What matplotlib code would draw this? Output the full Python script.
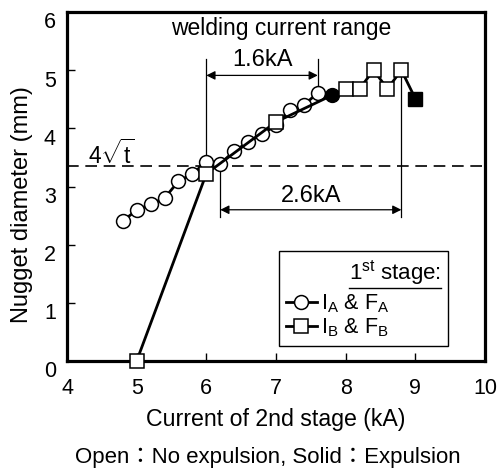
import matplotlib
matplotlib.use("Agg")
import matplotlib.pyplot as plt
from matplotlib.lines import Line2D
import matplotlib.transforms as mtransforms

plt.rcParams['font.family'] = ['Liberation Sans', 'Noto Sans CJK JP', 'DejaVu Sans']
plt.rcParams['mathtext.fontset'] = 'custom'
plt.rcParams['mathtext.rm'] = 'Liberation Sans'
plt.rcParams['mathtext.it'] = 'Liberation Sans'
plt.rcParams['mathtext.default'] = 'regular'

# Series A (I_A & F_A): open = no expulsion, solid = expulsion
a_x_open = [4.8, 5.0, 5.2, 5.4, 5.6, 5.8, 6.0, 6.2, 6.4, 6.6, 6.8, 7.0, 7.2, 7.4, 7.6]
a_y_open = [2.41, 2.59, 2.70, 2.80, 3.09, 3.22, 3.42, 3.39, 3.61, 3.76, 3.90, 4.05, 4.31, 4.40, 4.61]
a_x_solid = [7.8]
a_y_solid = [4.57]

# Series B (I_B & F_B)
b_x_open = [5.0, 6.0, 7.0, 8.0, 8.2, 8.4, 8.6, 8.8]
b_y_open = [0.0, 3.22, 4.11, 4.68, 4.68, 5.0, 4.68, 5.0]
b_x_solid = [9.0]
b_y_solid = [4.51]

limit_y = 3.35  # 4*sqrt(t)
range_a = (6.0, 7.6)
range_b = (6.2, 8.8)

x_ticks = [4, 5, 6, 7, 8, 9, 10]
y_ticks = [0, 1, 2, 3, 4, 5, 6]

fig = plt.figure(figsize=(5.01, 4.71), dpi=100)
ax = fig.add_axes([67/501, 1-361/471, 418/501, 349/471])
ax.set_xlim(4, 10)
ax.set_ylim(0, 6)
ax.set_xticks(x_ticks)
ax.set_yticks(y_ticks)
ax.tick_params(direction='in', length=5.5, width=1, labelsize=15.5)
ax.tick_params(axis='x', pad=12)
ax.tick_params(axis='y', pad=8)
for s in ax.spines.values():
    s.set_linewidth(2.3)
# y tick labels sit slightly below their ticks in the reference
off = mtransforms.ScaledTranslation(0, -6/72, fig.dpi_scale_trans)
for lab in ax.get_yticklabels():
    lab.set_transform(lab.get_transform() + off)

lw = 2.0
ms_c = 10
ms_s = 10.5
# series A
ax.plot(a_x_open + a_x_solid, a_y_open + a_y_solid, color='black', lw=lw, zorder=3)
ax.plot(a_x_open, a_y_open, ls='none', marker='o', ms=ms_c, mfc='white', mec='black', mew=1.1, zorder=4)
ax.plot(a_x_solid, a_y_solid, ls='none', marker='o', ms=ms_c, mfc='black', mec='black', zorder=4)
# series B
ax.plot(b_x_open + b_x_solid, b_y_open + b_y_solid, color='black', lw=lw, zorder=5, clip_on=False)
ax.plot(b_x_open, b_y_open, ls='none', marker='s', ms=ms_s, mfc='white', mec='black', mew=1.1, zorder=6, clip_on=False)
ax.plot(b_x_solid, b_y_solid, ls='none', marker='s', ms=ms_s, mfc='black', mec='black', zorder=6)

# 4 sqrt(t) line
ax.axhline(limit_y, color='black', lw=1.2, ls=(0, (7, 4)), zorder=1)
ax.text(4.3, 3.55, r'4$\sqrt{\mathrm{t}}$', fontsize=16.5, va='center', ha='left')

# welding current range annotations
ax.text(7.08, 5.72, 'welding current range', fontsize=16.5, ha='center', va='center')
ax.plot([range_a[0], range_a[0]], [limit_y, 5.2], color='black', lw=0.9, zorder=2)
ax.plot([range_a[1], range_a[1]], [4.55, 5.2], color='black', lw=0.9, zorder=2)
ax.annotate('', xy=(range_a[0], 4.91), xytext=(range_a[1], 4.91),
            arrowprops=dict(arrowstyle='<|-|>', color='black', lw=0.9, mutation_scale=13, shrinkA=0, shrinkB=0))
ax.text(sum(range_a)/2, 5.18, '1.6kA', fontsize=17, ha='center', va='center')

ax.plot([range_b[0], range_b[0]], [2.47, 3.38], color='black', lw=0.9, zorder=2)
ax.plot([range_b[1], range_b[1]], [2.47, 5.0], color='black', lw=0.9, zorder=2)
ax.annotate('', xy=(range_b[0], 2.6), xytext=(range_b[1], 2.6),
            arrowprops=dict(arrowstyle='<|-|>', color='black', lw=0.9, mutation_scale=13, shrinkA=0, shrinkB=0))
ax.text(sum(range_b)/2, 2.83, '2.6kA', fontsize=17, ha='center', va='center')

# legend
h1 = Line2D([], [], color='black', lw=lw, marker='o', ms=ms_c, mfc='white', mec='black', mew=1.1)
h2 = Line2D([], [], color='black', lw=lw, marker='s', ms=ms_s, mfc='white', mec='black', mew=1.1)
leg = ax.legend([h1, h2], [r'I$_{A}$ & F$_{A}$', r'I$_{B}$ & F$_{B}$'],
                title=r'1$^{st}$ stage:', title_fontsize=16, fontsize=15.5,
                loc='lower left', bbox_to_anchor=(0.507, 0.043, 0.404, 0.27), mode='expand',
                fancybox=False, edgecolor='black', framealpha=1,
                handlelength=1.45, handletextpad=0.2, borderpad=0.32,
                labelspacing=0.05, borderaxespad=0, alignment='right')
leg._legend_box.sep = 4
leg.get_frame().set_linewidth(1.0)
leg.set_zorder(10)

ax.set_xlabel('Current of 2nd stage (kA)', fontsize=16.7, labelpad=7)
fig.text(22/501, 1-205/471, 'Nugget diameter (mm)', fontsize=17, rotation=90, ha='center', va='center')
fig.text(268/501, 1-457/471, 'Open：No expulsion, Solid：Expulsion', fontsize=16, ha='center', va='center')

fig.canvas.draw()
bb = leg.get_title().get_window_extent()
fig.add_artist(Line2D([bb.x0/fig.bbox.width, bb.x1/fig.bbox.width],
                      [(bb.y0 - 1)/fig.bbox.height]*2, transform=fig.transFigure,
                      color='black', lw=1.0, zorder=11))

fig.savefig('out.png', dpi=100)
